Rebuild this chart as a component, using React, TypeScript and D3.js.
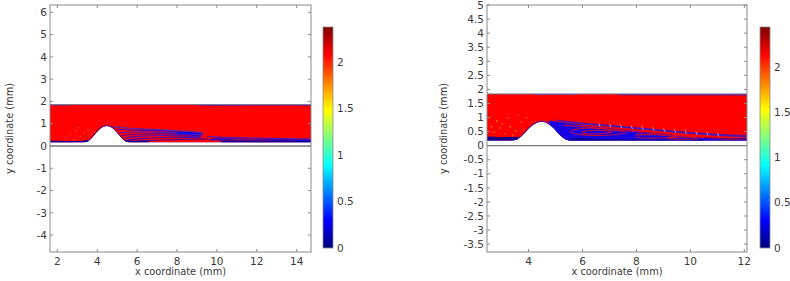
import React from "react";
import * as d3 from "d3";

// ---------- data ----------
const leftXTicks = [2, 4, 6, 8, 10, 12, 14];
const leftYTicks = [-4, -3, -2, -1, 0, 1, 2, 3, 4, 5, 6];
const rightXTicks = [4, 6, 8, 10, 12];
const rightYTicks = [-3.5, -3, -2.5, -2, -1.5, -1, -0.5, 0, 0.5, 1, 1.5, 2, 2.5, 3, 3.5, 4, 4.5, 5];
const cbTicks = [0, 0.5, 1, 1.5, 2];

const leftDomainX = [1.63, 14.72];
const leftDomainY = [-4.76, 6.33];
const rightDomainX = [2.46, 12.1];
const rightDomainY = [-3.78, 5.0];
const leftCbMax = 2.38;
const rightCbMax = 2.44;

const leftChannel = [0.17, 1.86];
const rightChannel = [0.18, 1.84];
const leftCore = 2.08;
const rightCore = 2.135;

const leftBumpX = [3.39, 3.55, 3.7, 3.85, 4.0, 4.15, 4.3, 4.48, 4.65, 4.8, 4.95, 5.1, 5.25, 5.4, 5.56];
const leftBumpY = [0.17, 0.21, 0.32, 0.48, 0.64, 0.77, 0.86, 0.9, 0.86, 0.77, 0.64, 0.48, 0.32, 0.21, 0.17];
const rightBumpX = [3.44, 3.58, 3.72, 3.87, 4.02, 4.18, 4.34, 4.48, 4.63, 4.78, 4.93, 5.08, 5.23, 5.37, 5.5];
const rightBumpY = [0.18, 0.22, 0.32, 0.46, 0.62, 0.74, 0.82, 0.86, 0.82, 0.74, 0.62, 0.46, 0.32, 0.22, 0.18];

// slow zones (filled)
const leftZones: [number, number][][] = [
  [[1.63, 0.17], [1.63, 0.21], [2.6, 0.22], [3.2, 0.23], [3.5, 0.27], [3.6, 0.2], [3.39, 0.17]],
  [[5.3, 0.24], [5.56, 0.17], [6.6, 0.17], [6.6, 0.2], [6.0, 0.23]],
  [[7.9, 0.6], [8.3, 0.63], [8.9, 0.6], [9.2, 0.55], [8.7, 0.53], [8.1, 0.55]],
  [[9.6, 0.3], [10.2, 0.3], [10.7, 0.27], [10.1, 0.26], [9.6, 0.27]],
  [[10.2, 0.17], [10.2, 0.21], [11.5, 0.23], [12.5, 0.24], [13.5, 0.23], [14.72, 0.22], [14.72, 0.17]],
];
const leftZoneSpeed = [0.05, 0.05, 0.3, 0.3, 0.06];

const rightZones: [number, number][][] = [
  [[2.46, 0.18], [2.46, 0.3], [2.9, 0.3], [3.3, 0.31], [3.62, 0.3], [3.62, 0.21], [3.44, 0.18]],
  [[4.75, 0.87], [5.2, 0.82], [6.0, 0.72], [7.0, 0.62], [8.0, 0.52], [9.0, 0.42], [10.0, 0.32], [10.8, 0.25], [11.6, 0.21], [12.1, 0.21], [12.1, 0.18], [5.5, 0.18], [5.37, 0.21], [5.23, 0.3], [5.08, 0.44], [4.93, 0.6], [4.8, 0.73]],
  [[5.5, 0.18], [5.5, 0.24], [7.0, 0.23], [9.0, 0.22], [10.5, 0.2], [10.5, 0.18]],
];
const rightZoneSpeed = [0.05, 0.3, 0.05];

// streak lines (slow, drawn over the core)
const leftStreaks: [number, number][][] = [
  [[4.8, 0.86], [5.5, 0.81], [6.5, 0.76], [7.5, 0.71], [8.5, 0.66], [9.3, 0.6]],
  [[5.0, 0.75], [5.7, 0.72], [6.6, 0.7], [7.5, 0.66], [8.5, 0.6], [9.3, 0.55]],
  [[5.15, 0.6], [5.8, 0.63], [6.6, 0.63], [7.5, 0.6], [8.5, 0.54], [9.3, 0.5]],
  [[5.25, 0.47], [6.0, 0.53], [7.0, 0.55], [8.0, 0.52], [9.2, 0.46]],
  [[5.35, 0.36], [6.1, 0.43], [7.1, 0.47], [8.2, 0.45], [9.2, 0.41]],
  [[5.45, 0.27], [6.2, 0.33], [7.2, 0.38], [8.2, 0.39], [9.2, 0.37]],
  [[5.55, 0.2], [6.5, 0.24], [7.5, 0.28], [8.5, 0.31], [9.5, 0.32]],
  [[9.5, 0.42], [10.5, 0.39], [11.5, 0.37], [12.5, 0.35], [13.5, 0.33], [14.72, 0.31]],
  [[9.8, 0.35], [11.0, 0.32], [12.2, 0.3], [13.5, 0.28], [14.72, 0.27]],
  [[10.0, 0.27], [11.5, 0.26], [13.0, 0.25], [14.72, 0.24]],
  [[1.63, 1.845], [2.6, 1.845]],
  [[9.0, 1.84], [10.5, 1.835], [12.0, 1.84], [13.4, 1.84], [14.72, 1.835]],
];
const leftStreakSpeed = [0.45, 0.3, 0.4, 0.3, 0.35, 0.3, 0.2, 0.4, 0.3, 0.2, 0.5, 0.4];

const rightStreaks: [number, number][][] = [
  [[5.6, 0.56], [6.2, 0.63], [7.0, 0.57], [7.6, 0.47], [7.0, 0.38], [6.2, 0.37], [5.6, 0.46], [5.6, 0.56]],
  [[6.0, 0.5], [6.6, 0.55], [7.1, 0.49], [6.6, 0.42], [6.0, 0.45], [6.0, 0.5]],
  [[8.0, 0.4], [8.8, 0.38], [9.5, 0.31], [8.8, 0.27], [8.0, 0.31], [8.0, 0.4]],
  [[9.2, 0.3], [9.8, 0.3], [10.3, 0.25], [9.8, 0.23], [9.2, 0.26], [9.2, 0.3]],
  [[5.3, 0.72], [6.2, 0.66], [7.2, 0.57], [8.2, 0.47], [9.2, 0.38], [10.2, 0.3]],
];
const rightStreakSpeed = [2.1, 2.1, 2.1, 2.1, 2.1];

const rightBlend: [number, number][][] = [
  [[5.0, 0.9], [6.0, 0.8], [7.2, 0.7], [8.5, 0.58], [10.0, 0.46], [11.2, 0.39], [12.1, 0.36]],
  [[5.2, 0.84], [6.5, 0.73], [8.0, 0.61], [9.5, 0.48], [11.0, 0.37], [12.1, 0.31]],
  [[10.5, 0.27], [11.3, 0.25], [12.1, 0.25]],
  [[7.3, 1.82], [9.0, 1.81], [10.5, 1.81], [12.1, 1.8]],
  [[4.2, 1.83], [5.8, 1.83]],
];
const rightBlendSpeed = [0.35, 0.4, 0.2, 0.4, 0.5];

// small velocity-arrow marks (x, y) in the right panel shear layer
const rightMarkX = [6.6, 7.0, 7.4, 7.8, 8.2, 8.6, 9.0, 9.4, 9.8, 10.2, 10.6, 11.0];
const rightMarkY = [0.8, 0.78, 0.76, 0.73, 0.7, 0.67, 0.63, 0.6, 0.56, 0.52, 0.49, 0.46];

// scattered speckles upstream of the bump (x, y, speed)
const leftSpeckX = [2.6, 2.9, 3.1, 3.3, 3.0, 2.4, 3.5, 2.8];
const leftSpeckY = [0.55, 0.7, 0.45, 0.62, 0.85, 0.4, 0.75, 0.3];
const leftSpeckV = [1.85, 1.8, 1.9, 1.85, 1.8, 1.9, 1.85, 1.8];
const rightSpeckX = [2.7, 2.9, 3.1, 3.3, 3.5, 3.7, 2.8, 3.2, 3.6, 3.0, 3.9, 2.6, 3.4, 3.8];
const rightSpeckY = [0.5, 0.65, 0.45, 0.7, 0.55, 0.85, 0.9, 1.0, 1.1, 0.8, 1.0, 0.7, 0.4, 0.6];
const rightSpeckV = [1.8, 1.7, 1.85, 1.75, 1.8, 1.85, 1.7, 1.8, 1.85, 1.75, 1.8, 1.7, 1.8, 1.85];

// ---------- helpers ----------
const jetNorm = d3
  .scaleLinear<string>()
  .domain([0, 0.125, 0.375, 0.625, 0.875, 1])
  .range(["#00007f", "#0000ff", "#00ffff", "#ffff00", "#ff0000", "#7f0000"])
  .clamp(true);

type Pt = [number, number];
type PanelProps = {
  id: string;
  left: number;
  right: number;
  top: number;
  bottom: number;
  domX: number[];
  domY: number[];
  xTicks: number[];
  yTicks: number[];
  channel: number[];
  core: number;
  bumpX: number[];
  bumpY: number[];
  zones: Pt[][];
  zoneSpeed: number[];
  streaks: Pt[][];
  streakSpeed: number[];
  blend: Pt[][];
  blendSpeed: number[];
  markX: number[];
  markY: number[];
  speckX: number[];
  speckY: number[];
  speckV: number[];
  cbX: number;
  cbMax: number;
  yTitleX: number;
};

const FONT = "DejaVu Sans, sans-serif";
const TXT = "#3a3a3a";
const AX = "#8a8a8a";

function Panel(p: PanelProps) {
  const x = d3.scaleLinear().domain(p.domX).range([p.left, p.right]);
  const y = d3.scaleLinear().domain(p.domY).range([p.bottom, p.top]);
  const col = (v: number) => jetNorm(v / p.cbMax);
  const [cb, ct] = p.channel;

  const wall: Pt[] = [[p.domX[0], cb]];
  p.bumpX.forEach((bx, i) => wall.push([bx, p.bumpY[i]]));
  wall.push([p.domX[1], cb]);
  const chanPts: Pt[] = [[p.domX[0], ct], [p.domX[1], ct], ...wall.slice().reverse()];
  const poly = d3.line<Pt>().x((d) => x(d[0])).y((d) => y(d[1]));
  const smooth = d3.line<Pt>().x((d) => x(d[0])).y((d) => y(d[1])).curve(d3.curveCatmullRom);
  const closedSmooth = d3.line<Pt>().x((d) => x(d[0])).y((d) => y(d[1])).curve(d3.curveCatmullRomClosed);

  const cbTop = 27, cbBot = 248;
  const cbScale = d3.scaleLinear().domain([0, p.cbMax]).range([cbBot, cbTop]);
  const stops = d3.range(0, 1.0001, 0.025);

  return (
    <g>
      <defs>
        <clipPath id={`clip-${p.id}`}>
          <rect x={p.left} y={p.top} width={p.right - p.left} height={p.bottom - p.top} />
        </clipPath>
        <clipPath id={`chan-${p.id}`}>
          <path d={poly(chanPts) + "Z"} />
        </clipPath>
        <linearGradient id={`grad-${p.id}`} x1="0" y1="1" x2="0" y2="0">
          {stops.map((s) => (
            <stop key={s} offset={s} stopColor={jetNorm(s)} />
          ))}
        </linearGradient>
      </defs>
      <rect x={p.left} y={p.top} width={p.right - p.left} height={p.bottom - p.top} fill="#fff" />
      <g clipPath={`url(#clip-${p.id})`}>
        <path d={poly(chanPts) + "Z"} fill={col(p.core)} />
        <g clipPath={`url(#chan-${p.id})`}>
          {p.speckX.map((sx, i) => (
            <rect key={"k" + i} x={x(sx)} y={y(p.speckY[i])} width={1.3} height={1.3} fill={col(p.speckV[i])} />
          ))}
          {p.zones.map((z, i) => (
            <path key={"z" + i} d={closedSmooth(z) || ""} fill={col(p.zoneSpeed[i])} fillOpacity={0.9} />
          ))}
          {p.streaks.map((s, i) => (
            <path key={"s" + i} d={smooth(s) || ""} fill="none" stroke={col(p.streakSpeed[i])} strokeWidth={1.1} strokeOpacity={0.7} />
          ))}
          {p.blend.map((s, i) => (
            <path key={"b" + i} d={smooth(s) || ""} fill="none" stroke={col(p.blendSpeed[i])} strokeWidth={1.5} strokeOpacity={0.55} />
          ))}
          {p.markX.map((mx, i) => (
            <line key={"m" + i} x1={x(mx)} x2={x(mx) + 1.5} y1={y(p.markY[i])} y2={y(p.markY[i]) + 4} stroke="#c9a0a0" strokeWidth={0.9} />
          ))}
          {/* blue lining along the wall */}
          <path d={smooth(wall) || ""} fill="none" stroke={col(0.15)} strokeWidth={1.6} strokeOpacity={0.85} />
        </g>
        <line x1={p.left} x2={p.right} y1={y(ct)} y2={y(ct)} stroke="#7a7a9a" strokeWidth={1} />
        <line x1={p.left} x2={p.right} y1={y(0)} y2={y(0)} stroke="#777" strokeWidth={1.3} />
      </g>
      {/* frame */}
      <rect x={p.left} y={p.top} width={p.right - p.left} height={p.bottom - p.top} fill="none" stroke={AX} strokeWidth={1} />
      {p.xTicks.map((t) => (
        <g key={"xt" + t}>
          <line x1={x(t)} x2={x(t)} y1={p.bottom} y2={p.bottom - 3} stroke={AX} />
          <line x1={x(t)} x2={x(t)} y1={p.top} y2={p.top + 3} stroke={AX} />
          <text x={x(t)} y={p.bottom + 12.5} textAnchor="middle" fontSize={10.5} fontFamily={FONT} fill={TXT}>
            {t}
          </text>
        </g>
      ))}
      {p.yTicks.map((t) => (
        <g key={"yt" + t}>
          <line x1={p.left} x2={p.left + 3} y1={y(t)} y2={y(t)} stroke={AX} />
          <line x1={p.right} x2={p.right - 3} y1={y(t)} y2={y(t)} stroke={AX} />
          <text x={p.left - 3} y={y(t) + 3.7} textAnchor="end" fontSize={10.5} fontFamily={FONT} fill={TXT}>
            {t}
          </text>
        </g>
      ))}
      <text x={(p.left + p.right) / 2} y={275} textAnchor="middle" fontSize={9.8} fontFamily={FONT} fill={TXT}>
        x coordinate (mm)
      </text>
      <text
        transform={`translate(${p.yTitleX},${(p.top + p.bottom) / 2}) rotate(-90)`}
        textAnchor="middle"
        dy="0.35em"
        fontSize={9.8}
        fontFamily={FONT}
        fill={TXT}
      >
        y coordinate (mm)
      </text>
      {/* colorbar */}
      <rect x={p.cbX} y={cbTop} width={10} height={cbBot - cbTop} fill={`url(#grad-${p.id})`} stroke={AX} strokeWidth={0.8} />
      {cbTicks.map((t) => (
        <text key={"cb" + t} x={p.cbX + 14} y={cbScale(t) + 3.7} fontSize={10.5} fontFamily={FONT} fill={TXT}>
          {t}
        </text>
      ))}
    </g>
  );
}

export default function App() {
  return (
    <svg width={790} height={281} style={{ position: "absolute", left: 0, top: 0, background: "#fff" }}>
      <Panel
        id="L"
        left={50}
        right={311}
        top={5}
        bottom={252}
        domX={leftDomainX}
        domY={leftDomainY}
        xTicks={leftXTicks}
        yTicks={leftYTicks}
        channel={leftChannel}
        core={leftCore}
        bumpX={leftBumpX}
        bumpY={leftBumpY}
        zones={leftZones}
        zoneSpeed={leftZoneSpeed}
        streaks={leftStreaks}
        streakSpeed={leftStreakSpeed}
        blend={[]}
        blendSpeed={[]}
        markX={[]}
        markY={[]}
        speckX={leftSpeckX}
        speckY={leftSpeckY}
        speckV={leftSpeckV}
        cbX={323}
        cbMax={leftCbMax}
        yTitleX={10}
      />
      <Panel
        id="R"
        left={487}
        right={747}
        top={5}
        bottom={252}
        domX={rightDomainX}
        domY={rightDomainY}
        xTicks={rightXTicks}
        yTicks={rightYTicks}
        channel={rightChannel}
        core={rightCore}
        bumpX={rightBumpX}
        bumpY={rightBumpY}
        zones={rightZones}
        zoneSpeed={rightZoneSpeed}
        streaks={rightStreaks}
        streakSpeed={rightStreakSpeed}
        blend={rightBlend}
        blendSpeed={rightBlendSpeed}
        markX={rightMarkX}
        markY={rightMarkY}
        speckX={rightSpeckX}
        speckY={rightSpeckY}
        speckV={rightSpeckV}
        cbX={760}
        cbMax={rightCbMax}
        yTitleX={444}
      />
    </svg>
  );
}
